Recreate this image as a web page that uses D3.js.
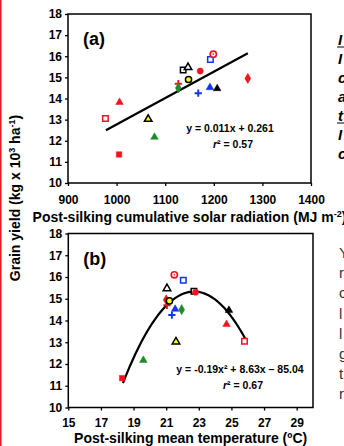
<!DOCTYPE html>
<html><head><meta charset="utf-8">
<script src="https://cdn.jsdelivr.net/npm/d3@7"></script>
<style>
html,body{margin:0;padding:0;background:#fff;overflow:hidden}
svg{display:block;font-family:Arial,"Liberation Sans",sans-serif}
</style></head>
<body>
<svg id="c" width="344" height="446"></svg>
<script>
// ---- data ----
const markerIds = ["redOpenSquare","redTriangle","redSquare","yellowTriangle","greenTriangle","redPlus","greenDiamond","blackOpenSquare","blackOpenTriangle","redDiamond","yellowCircle","bluePlus","redCircle","blueTriangle","blackTriangle","blueOpenSquare","redRing"];
const radiation   = [977,1006,1005,1065,1078,1127,1127,1137,1147,1270,1148,1168,1172,1192,1207,1193,1199];
const temperature = [25.8,24.7,18.3,21.6,19.6,21.05,21.95,22.7,21.05,21.0,21.2,21.35,22.8,21.55,24.85,22.05,21.5];
const grainYield  = [13.05,13.85,11.35,13.05,12.2,14.7,14.5,15.35,15.5,14.95,14.9,14.25,15.3,14.55,14.5,15.85,16.1];
const radTicks  = [900,1000,1100,1200,1300,1400];
const tempTicks = [15,17,19,21,23,25,27,29];
const yieldTicks = [10,11,12,13,14,15,16,17,18];
// fitted relations (as drawn)
const linearFit = {slope:0.0125, intercept:0.27, from:978, to:1270};
const quadFit = {a:-0.221, b:10.04, c:-98.7, from:18.35, to:25.95};
const eqA = ["y = 0.011x + 0.261", "r² = 0.57"];
const eqB = ["y = -0.19x² + 8.63x – 85.04", "r² = 0.67"];
const sideTextA = ["I","I","c","a","t","I","c"];
const sideTextB = ["Y","r","c","l","l","g","t","r"];

// ---- styles ----
const RED="#f0141e", BLUE="#1432f0", GREEN="#1e8c28", YEL="#ffff00";
const style = {
  redOpenSquare:{shape:"square",fill:"#fff",stroke:RED},
  redTriangle:{shape:"triangle",fill:RED,stroke:RED},
  redSquare:{shape:"square",fill:RED,stroke:RED},
  yellowTriangle:{shape:"triangle",fill:YEL,stroke:"#000"},
  greenTriangle:{shape:"triangle",fill:GREEN,stroke:GREEN},
  redPlus:{shape:"plus",stroke:RED},
  greenDiamond:{shape:"diamond",fill:GREEN,stroke:GREEN},
  blackOpenSquare:{shape:"square",fill:"#fff",stroke:"#000"},
  blackOpenTriangle:{shape:"triangle",fill:"#fff",stroke:"#000"},
  redDiamond:{shape:"diamond",fill:RED,stroke:RED},
  yellowCircle:{shape:"circle",fill:YEL,stroke:"#000"},
  bluePlus:{shape:"plus",stroke:BLUE},
  redCircle:{shape:"circle",fill:RED,stroke:RED},
  blueTriangle:{shape:"triangle",fill:BLUE,stroke:BLUE},
  blackTriangle:{shape:"triangle",fill:"#000",stroke:"#000"},
  blueOpenSquare:{shape:"square",fill:"#fff",stroke:BLUE},
  redRing:{shape:"ring",fill:"#fff",stroke:RED}
};

const svg = d3.select("#c");
svg.append("rect").attr("width",344).attr("height",446).attr("fill","#fff");
// red page rule at left
svg.append("line").attr("x1",0.8).attr("x2",0.8).attr("y1",0).attr("y2",446)
  .attr("stroke","#e02020").attr("stroke-width",1.6);

function drawMarker(g, id, x, y){
  const s = style[id];
  if(s.shape==="plus"){
    const p = g.append("g").attr("transform",`translate(${x},${y})`);
    p.append("path").attr("d","M-3.6,0H3.6M0,-3.6V3.6").attr("stroke",s.stroke).attr("stroke-width",1.9).attr("fill","none");
    return;
  }
  if(s.shape==="ring"){
    g.append("circle").attr("cx",x).attr("cy",y).attr("r",3.1).attr("fill","#fff").attr("stroke",s.stroke).attr("stroke-width",1.7);
    g.append("circle").attr("cx",x).attr("cy",y).attr("r",0.8).attr("fill",s.stroke);
    return;
  }
  const sym = {square:d3.symbolSquare,triangle:d3.symbolTriangle,circle:d3.symbolCircle,diamond:d3.symbolDiamond}[s.shape];
  const size = {square:30,triangle:25,circle:30,diamond:30}[s.shape];
  const open = s.fill!==s.stroke;
  g.append("path").attr("d",d3.symbol().type(sym).size(size)())
    .attr("transform",`translate(${x},${y + (s.shape==="triangle"?0.6:0)})`)
    .attr("fill",s.fill).attr("stroke",s.stroke).attr("stroke-width",open?1.5:0.5);
}

function panel(opt){
  const g = svg.append("g");
  const x = d3.scaleLinear().domain(opt.xDomain).range(opt.xRange);
  const y = d3.scaleLinear().domain([10,18]).range(opt.yRange);
  // frame
  g.append("rect").attr("x",opt.xRange[0]).attr("y",opt.yRange[1])
    .attr("width",opt.xRange[1]-opt.xRange[0]).attr("height",opt.yRange[0]-opt.yRange[1])
    .attr("fill","none").attr("stroke","#000").attr("stroke-width",1.5);
  const yAx = g.append("g").attr("transform",`translate(${opt.xRange[0]},0)`)
    .call(d3.axisLeft(y).tickValues(yieldTicks).tickSize(3).tickPadding(3).tickFormat(d3.format("d")));
  const xAx = g.append("g").attr("transform",`translate(0,${opt.yRange[0]})`)
    .call(d3.axisBottom(x).tickValues(opt.ticks).tickSize(3).tickPadding(opt.xPad).tickFormat(d3.format("d")));
  [yAx,xAx].forEach(a=>{
    a.select(".domain").remove();
    a.selectAll("line").attr("stroke","#000").attr("stroke-width",1.3);
    a.selectAll("text").attr("font-size",12).attr("font-weight","bold").attr("fill","#000")
      .attr("font-family",'Arial,"Liberation Sans",sans-serif');
  });
  // fit
  g.append("path").datum(opt.fitPts).attr("fill","none").attr("stroke","#000").attr("stroke-width",2.2)
    .attr("d",d3.line().x(d=>x(d[0])).y(d=>y(d[1])));
  // points
  const pts = g.append("g");
  markerIds.forEach((id,i)=>drawMarker(pts,id,x(opt.xs[i]),y(grainYield[i])));
  // label
  g.append("text").attr("x",opt.xRange[0]+15).attr("y",opt.yRange[1]+31).text(opt.label)
    .attr("font-size",18).attr("font-weight","bold");
  // equation
  g.append("text").attr("x",opt.eqX).attr("y",opt.eqY).attr("text-anchor","middle")
    .attr("font-size",10.5).attr("font-weight","bold").text(opt.eq[0]);
  const r2 = g.append("text").attr("x",opt.eqX+3).attr("y",opt.eqY+16).attr("text-anchor","middle")
    .attr("font-size",10.5).attr("font-weight","bold");
  r2.append("tspan").attr("font-style","italic").text("r");
  r2.append("tspan").text(opt.eq[1].slice(1));
  // x title
  const t = g.append("text").attr("x",(opt.xRange[0]+opt.xRange[1])/2).attr("y",opt.titleY)
    .attr("text-anchor","middle").attr("font-size",14).attr("font-weight","bold");
  opt.title(t);
}

const linPts = [linearFit.from, linearFit.to].map(v=>[v, linearFit.slope*v+linearFit.intercept]);
const quadPts = d3.range(0,101).map(k=>{
  const v = quadFit.from + (quadFit.to-quadFit.from)*k/100;
  return [v, quadFit.a*v*v + quadFit.b*v + quadFit.c];
});

panel({xDomain:[900,1400], xRange:[68,311], yRange:[183,14], ticks:radTicks, xPad:9,
  xs:radiation, fitPts:linPts, label:"(a)", eq:eqA, eqX:230, eqY:132, titleY:222,
  title:t=>{t.append("tspan").text("Post-silking cumulative solar radiation (MJ m");
            t.append("tspan").attr("font-size",9).attr("dy",-5).text("-2");
            t.append("tspan").attr("dy",5).text(")");}});
panel({xDomain:[15,30], xRange:[68.3,313], yRange:[407.5,233.5], ticks:tempTicks, xPad:8,
  xs:temperature, fitPts:quadPts, label:"(b)", eq:eqB, eqX:240, eqY:373, titleY:443,
  title:t=>{t.text("Post-silking mean temperature (ºC)");}});

// y axis title
const yt = svg.append("text").attr("transform","translate(20,198) rotate(-90)")
  .attr("text-anchor","middle").attr("font-size",14).attr("font-weight","bold");
yt.append("tspan").text("Grain yield (kg x 10");
yt.append("tspan").attr("font-size",9).attr("dy",-5).text("3");
yt.append("tspan").attr("dy",5).text(" ha");
yt.append("tspan").attr("font-size",9).attr("dy",-5).text("-1");
yt.append("tspan").attr("dy",5).text(")");

// cut-off neighbouring text on the right
sideTextA.forEach((c,i)=>{
  svg.append("text").attr("x",338).attr("y",45+i*19).attr("font-size",15)
    .attr("font-weight","bold").attr("font-style","italic").text(c);
  if(i===0||i===4) svg.append("line").attr("x1",337).attr("x2",344).attr("y1",47+i*19).attr("y2",47+i*19).attr("stroke","#000").attr("stroke-width",1);
});
sideTextB.forEach((c,i)=>{
  svg.append("text").attr("x",339).attr("y",258+i*20.2).attr("font-size",15)
    .attr("fill","#333").text(c);
});
</script>
</body></html>
